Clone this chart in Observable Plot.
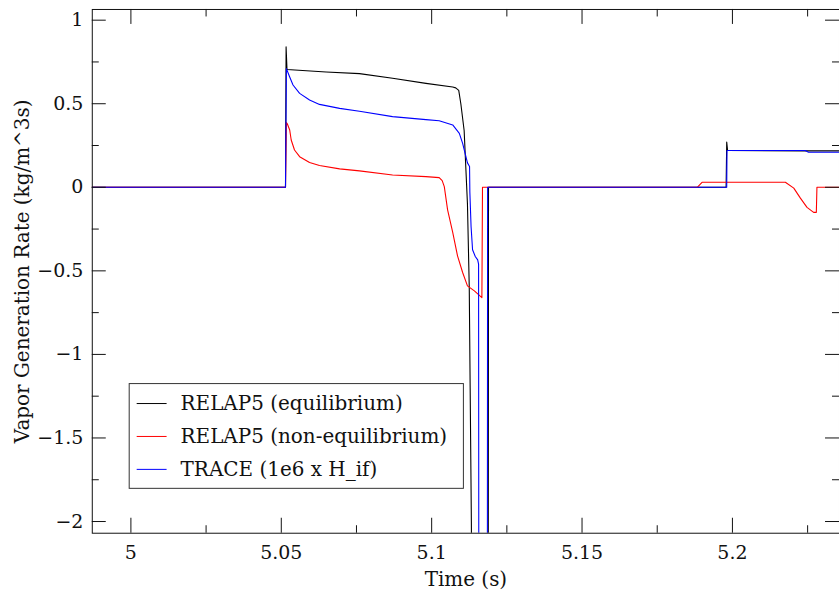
<!DOCTYPE html>
<html><head><meta charset="utf-8">
<script src="https://cdn.jsdelivr.net/npm/d3@7"></script>
<script src="https://cdn.jsdelivr.net/npm/@observablehq/plot@0.6"></script>
<style>html,body{margin:0;padding:0;overflow:hidden;background:#fff}svg{display:block}</style>
</head><body><div id="chart"></div>
<script>
// RELAP5 (equilibrium)
const eqTime  = [4.987, 5.0514, 5.0516, 5.0519, 5.0649, 5.0760, 5.0870, 5.0981, 5.1070, 5.1080, 5.1090, 5.1097, 5.1108, 5.1114, 5.1119, 5.1125, 5.1128, 5.1132, 5.1135, 5.1188, 5.1189, 5.1979, 5.1981, 5.1984, 5.2242, 5.2356];
const eqValue = [0, 0, 0.84, 0.705, 0.69, 0.68, 0.652, 0.622, 0.60, 0.595, 0.58, 0.50, 0.34, 0.10, -0.1, -0.6, -1.2, -2.0, -3, -3, 0, 0, 0.27, 0.22, 0.218, 0.218];
// RELAP5 (non-equilibrium)
const neqTime  = [4.987, 5.0514, 5.0517, 5.0520, 5.0528, 5.0533, 5.0544, 5.0561, 5.0594, 5.0627, 5.0694, 5.0760, 5.0870, 5.0981, 5.1025, 5.1035, 5.1042, 5.1053, 5.1070, 5.1086, 5.1103, 5.1119, 5.1142, 5.1167, 5.1169, 5.1883, 5.1899, 5.2176, 5.2204, 5.2226, 5.2248, 5.2270, 5.2279, 5.2281, 5.2356];
const neqValue = [0, 0, 0.387, 0.38, 0.343, 0.283, 0.223, 0.183, 0.148, 0.13, 0.11, 0.098, 0.074, 0.064, 0.058, 0.04, 0.004, -0.135, -0.27, -0.41, -0.51, -0.59, -0.62, -0.66, 0, 0, 0.03, 0.03, -0.005, -0.065, -0.12, -0.15, -0.15, 0, 0];
// TRACE (1e6 x H_if)
const trTime  = [4.987, 5.0514, 5.0517, 5.0528, 5.0539, 5.0561, 5.0594, 5.0627, 5.0694, 5.0760, 5.0870, 5.0981, 5.1025, 5.1070, 5.1092, 5.1103, 5.1119, 5.1126, 5.1127, 5.1131, 5.1136, 5.1145, 5.1153, 5.1156, 5.1157, 5.1185, 5.1186, 5.1981, 5.1982, 5.2242, 5.2253, 5.2356];
const trValue = [0, 0, 0.71, 0.66, 0.612, 0.562, 0.522, 0.496, 0.472, 0.455, 0.423, 0.405, 0.398, 0.373, 0.323, 0.263, 0.146, 0.124, -0.03, -0.235, -0.374, -0.414, -0.434, -0.46, -3, -3, 0, 0, 0.22, 0.22, 0.21, 0.21];

const seriesNames = ["RELAP5 (equilibrium)", "RELAP5 (non-equilibrium)", "TRACE (1e6 x H_if)"];
const seriesColors = ["#000000", "#ff0000", "#0000ff"];
const xMajorTicks = [5, 5.05, 5.1, 5.15, 5.2];
const xMinorTicks = [5.025, 5.075, 5.125, 5.175, 5.225];
const yMajorTicks = [-2, -1.5, -1, -0.5, 0, 0.5, 1];
const yMinorTicks = [-1.75, -1.25, -0.75, -0.25, 0.25, 0.75];
const xLabel = "Time (s)";
const yLabel = "Vapor Generation Rate (kg/m^3s)";

const toRows = (ts, vs) => ts.map((t, i) => ({t, v: vs[i]}));
const seriesData = [toRows(eqTime, eqValue), toRows(neqTime, neqValue), toRows(trTime, trValue)];
const fmt = d => (d < 0 ? "\u2212" : "") + Math.abs(d);

const W = 841, H = 602, ML = 92, MR = 0, MT = 9, MB = 68;
const PW = W - ML - MR, PH = H - MT - MB;
const font = "DejaVu Serif";
const ink = "#111";

const plot = Plot.plot({
  width: W, height: H, marginLeft: ML, marginRight: MR, marginTop: MT, marginBottom: MB,
  style: {fontFamily: font, fontSize: "19px", color: ink, background: "#fff"},
  x: {domain: [4.98716, 5.2356], axis: null},
  y: {domain: [-2.07, 1.064], axis: null},
  marks: [
    ...seriesData.map((rows, i) => Plot.line(rows, {x: "t", y: "v", stroke: seriesColors[i], strokeWidth: 1.1, clip: true})),
    // ticks (inward) bottom/top
    Plot.tickX(xMajorTicks, {x: d => d, insetTop: PH - 15, stroke: ink}),
    Plot.tickX(xMinorTicks, {x: d => d, insetTop: PH - 7.5, stroke: ink}),
    Plot.tickX(xMajorTicks, {x: d => d, insetBottom: PH - 15, stroke: ink}),
    Plot.tickX(xMinorTicks, {x: d => d, insetBottom: PH - 7.5, stroke: ink}),
    // ticks left/right
    Plot.tickY(yMajorTicks, {y: d => d, insetRight: PW - 14, stroke: ink}),
    Plot.tickY(yMinorTicks, {y: d => d, insetRight: PW - 7, stroke: ink}),
    Plot.tickY(yMajorTicks, {y: d => d, insetLeft: PW - 14, stroke: ink}),
    Plot.tickY(yMinorTicks, {y: d => d, insetLeft: PW - 7, stroke: ink}),
    Plot.axisX(xMajorTicks, {anchor: "bottom", tickSize: 0, tickPadding: 12, tickFormat: fmt, label: null, fontSize: 19}),
    Plot.axisY(yMajorTicks, {anchor: "left", tickSize: 0, tickPadding: 9, tickFormat: fmt, label: null, fontSize: 19}),
    Plot.text([xLabel], {frameAnchor: "bottom", dy: 53, fontSize: 20, fill: ink}),
    Plot.text([yLabel], {frameAnchor: "left", dx: -70, rotate: -90, textAnchor: "middle", fontSize: 20, fill: ink}),
    Plot.frame({stroke: ink})
  ]
});

// legend
const svg = d3.select(plot);
const lg = svg.append("g").attr("font-family", font).attr("font-size", 20).attr("text-anchor", "start");
lg.append("rect").attr("x", 129.5).attr("y", 384.5).attr("width", 335).attr("height", 105)
  .attr("fill", "#fff").attr("stroke", "#333");
seriesNames.forEach((name, i) => {
  const y = 404 + i * 33;
  lg.append("line").attr("x1", 137).attr("x2", 167).attr("y1", y + 0.5).attr("y2", y + 0.5)
    .attr("stroke", seriesColors[i]).attr("stroke-width", 1);
  lg.append("text").attr("x", 181).attr("y", y).attr("dy", "0.35em").attr("text-anchor", "start")
    .attr("fill", ink).text(name);
});

document.getElementById("chart").appendChild(plot);
</script>
</body></html>
